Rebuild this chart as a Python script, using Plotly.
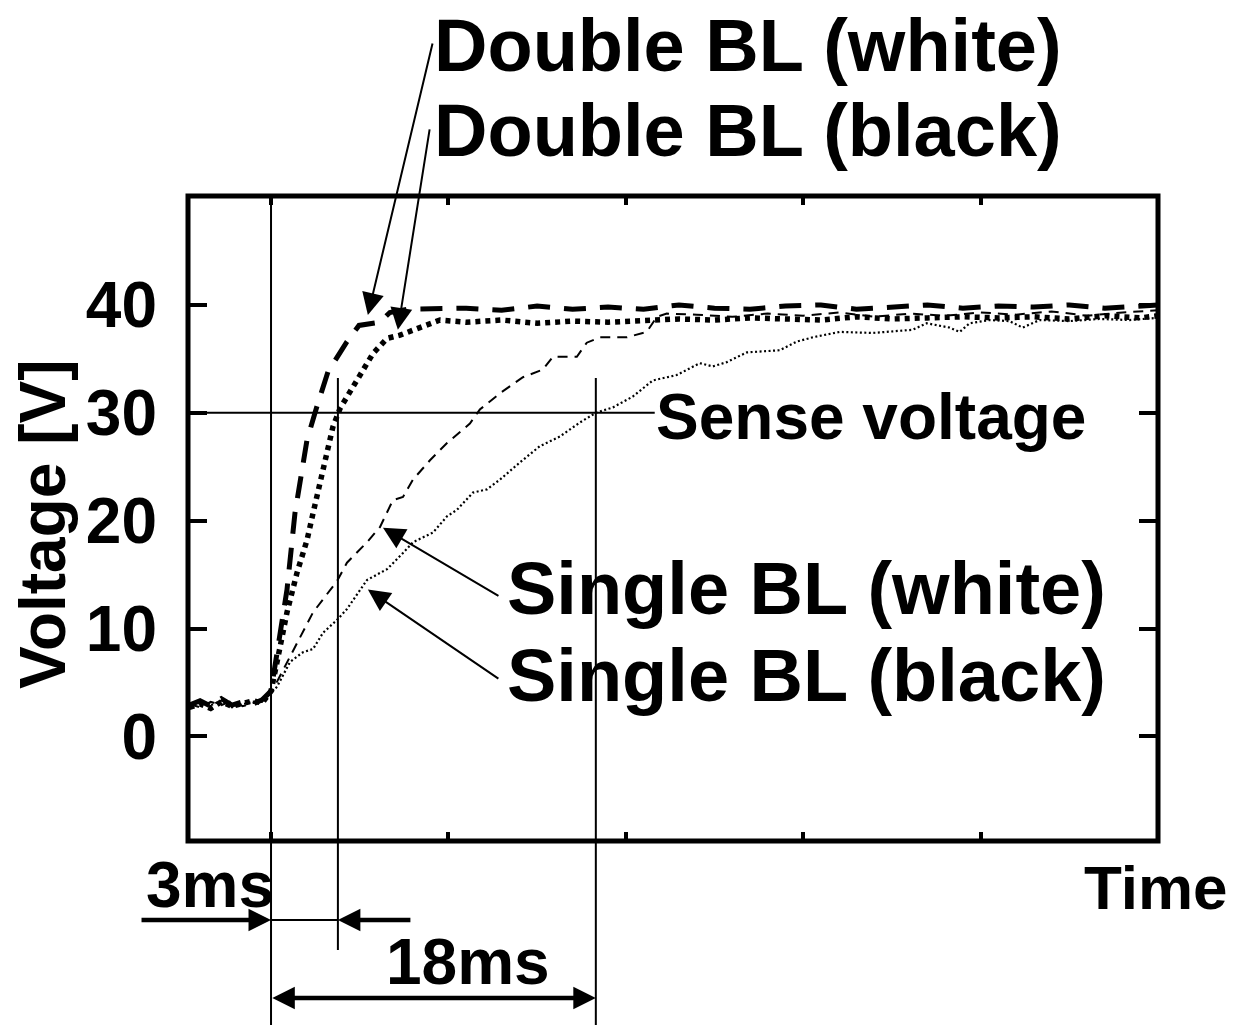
import plotly.graph_objects as go

# ---------------- data (time in ms relative to drive step, voltage in V) -------------
pre_t = [-4.6, -4.0, -3.4, -2.8, -2.2, -1.6, -1.0, -0.5]

dw_t = pre_t + [0.0, 0.9, 1.35, 2.03, 2.59, 3.21, 4.28, 4.96, 6.14, 6.7, 7.66,
                9, 11, 13, 15, 17, 19, 21, 23, 25, 27, 29, 31, 33, 35, 37, 39, 41, 43, 45, 47, 49, 50]
dw_v = [2.9, 3.3, 2.8, 3.5, 2.9, 3.2, 3.0, 3.4,
        4.2, 13.6, 20.7, 27.5, 30.6, 33.8, 36.6, 38.1, 38.4, 39.3, 39.6,
        39.6, 39.7, 39.5, 39.9, 39.6, 39.8, 39.6, 40.0, 39.7, 39.6, 39.9, 40.0, 39.6, 39.8,
        40.0, 39.7, 39.9, 39.8, 40.0, 39.7, 39.9, 40.0]

db_t = pre_t + [0.0, 0.34, 0.9, 1.47, 2.03, 2.37, 2.93, 3.49, 3.89, 4.85, 5.75, 6.54, 7.27, 8.39, 9.52,
                11, 13, 15, 17, 19, 21, 23, 25, 27, 29, 31, 33, 35, 37, 39, 41, 43, 45, 47, 49, 50]
db_v = [2.7, 3.0, 2.6, 3.2, 2.8, 3.0, 3.3, 3.1,
        4.2, 6.9, 11.5, 15.2, 18.2, 20.7, 25.0, 28.7, 30.4, 33.0, 35.5, 36.9, 37.2, 37.9, 38.6,
        38.4, 38.6, 38.3, 38.5, 38.4, 38.5, 38.7, 38.6, 38.8, 38.7, 38.6, 38.9, 38.7, 38.8,
        38.9, 38.8, 38.9, 38.7, 39.0, 38.8, 39.0]

sw_t = pre_t + [0.0, 1.35, 2.37, 3.72, 4.28, 5.41, 6.14, 6.87, 7.44, 8.0, 8.96, 9.92, 10.65,
                11.21, 11.77, 12.9, 14.2, 15.32, 15.89, 17.24, 17.8, 18.54, 20.06, 21.18, 21.75, 22.31,
                24, 26, 28, 30, 32, 34, 36, 38, 40, 42, 44, 46, 48, 50]
sw_v = [3.0, 2.7, 3.2, 2.9, 3.3, 2.8, 3.1, 3.2,
        4.0, 8.3, 11.5, 14.4, 16.1, 18.0, 19.4, 21.9, 22.2, 23.8, 25.6, 27.2, 28.2,
        29.0, 30.3, 31.8, 33.3, 34.0, 35.2, 35.2, 36.5, 37.0, 37.0, 37.5, 38.9, 39.2,
        39.1, 38.9, 39.2, 39.0, 39.3, 38.9, 39.2, 39.0, 39.3, 39.1, 39.4, 39.0, 39.3, 39.5]

sb_t = pre_t + [0.0, 0.34, 1.07, 1.8, 2.37, 2.93, 3.72, 4.28, 5.41, 6.54, 7.44, 8.0, 9.13, 9.92,
                10.48, 11.38, 12.17, 12.9, 14.03, 15.15, 16.28, 17.41, 18.31, 19.27, 20.39, 21.52,
                22.87, 24.17, 24.9, 25.69, 26.82, 28.68, 29.63, 30.54, 32.06, 33.92, 36.17, 36.96,
                38.25, 38.82, 39.38, 40.5, 41.63, 42.37, 43.32, 45.01, 46.7, 48.39, 49.97]
sb_v = [2.8, 3.1, 2.9, 3.3, 2.7, 3.0, 3.2, 3.5,
        4.0, 4.6, 6.9, 7.8, 8.1, 9.6, 10.8, 11.8, 14.5, 15.5, 17.0, 18.0, 18.9, 20.4,
        21.0, 22.6, 22.9, 23.8, 25.4, 26.9, 27.8, 29.1, 30.0, 30.5, 31.5, 33.0,
        33.5, 34.6, 34.3, 34.7, 35.6, 35.8, 36.6, 37.0, 37.5, 37.4, 37.7, 38.3,
        37.9, 37.5, 38.3, 38.6, 38.5, 37.9, 38.6, 38.5, 38.7, 38.6, 38.8]

y_ticks = [0, 10, 20, 30, 40]
x_ticks = [0, 10, 20, 30, 40]
sense_voltage = 30
t_step = 0.0          # drive start
t_double = 3.77       # double BL reaches sense voltage
t_single = 18.31      # single BL reaches sense voltage

x_range = [-4.68, 50.0]
y_range = [-9.7, 50.1]

# ---------------- figure geometry ----------------
W, H = 1234, 1025
L, R, T, B = 188, 1158, 196, 841   # plot area in pixels


def px_x(px):
    return (px - L) / (R - L)


def px_y(py):
    return (B - py) / (B - T)


BOLD = "Liberation Sans, Arial, sans-serif"

fig = go.Figure()

fig.add_trace(go.Scatter(x=sb_t, y=sb_v, mode="lines", name="Single BL (black)",
                         line=dict(color="black", width=2.2, dash="2px,2.5px")))
fig.add_trace(go.Scatter(x=sw_t, y=sw_v, mode="lines", name="Single BL (white)",
                         line=dict(color="black", width=2, dash="10px,7px")))
fig.add_trace(go.Scatter(x=db_t, y=db_v, mode="lines", name="Double BL (black)",
                         line=dict(color="black", width=5.5, dash="5px,5px")))
fig.add_trace(go.Scatter(x=dw_t, y=dw_v, mode="lines", name="Double BL (white)",
                         line=dict(color="black", width=5, dash="22px,14px")))

shapes = []
# plot frame
shapes.append(dict(type="rect", xref="paper", yref="paper", x0=0, x1=1, y0=0, y1=1,
                   line=dict(color="black", width=5)))
# sense voltage line
shapes.append(dict(type="line", xref="x", yref="y", x0=x_range[0], x1=21.63,
                   y0=sense_voltage, y1=sense_voltage, line=dict(color="black", width=2)))
# vertical markers
shapes.append(dict(type="line", xref="x", yref="paper", x0=t_step, x1=t_step,
                   y0=1, y1=px_y(1025), line=dict(color="black", width=2)))
shapes.append(dict(type="line", xref="x", yref="paper", x0=t_double, x1=t_double,
                   y0=px_y(378), y1=px_y(950), line=dict(color="black", width=2)))
shapes.append(dict(type="line", xref="x", yref="paper", x0=t_single, x1=t_single,
                   y0=px_y(378), y1=px_y(1025), line=dict(color="black", width=2)))
# thin line between 3ms arrows
shapes.append(dict(type="line", xref="x", yref="paper", x0=t_step, x1=t_double,
                   y0=px_y(920), y1=px_y(920), line=dict(color="black", width=2)))

ann = []


def label(text, xpx, ypx, size, anchor="left"):
    ann.append(dict(text=text, xref="paper", yref="paper", x=px_x(xpx), y=px_y(ypx),
                    xanchor=anchor, yanchor="middle", showarrow=False,
                    font=dict(family=BOLD, size=size, color="black", weight="bold")))


label("Double BL (white)", 432, 45, 74)
label("Double BL (black)", 432, 130, 74)
label("Single BL (white)", 505, 588, 74)
label("Single BL (black)", 505, 675, 74)
label("Sense voltage", 654, 417, 64)
label("Time", 1082, 887, 62)
label("3ms", 144, 885, 64)
label("18ms", 384, 962, 64)
ann.append(dict(text="Voltage [V]", xref="paper", yref="paper", x=px_x(43), y=px_y(524),
                xanchor="center", yanchor="middle", showarrow=False, textangle=-90,
                font=dict(family=BOLD, size=64, color="black", weight="bold")))


def pointer(x, y, ax, ay):
    ann.append(dict(text="", x=x, y=y, xref="x", yref="y", ax=ax, ay=ay,
                    axref="pixel", ayref="pixel", showarrow=True,
                    arrowhead=2, arrowsize=2.2, arrowwidth=2, arrowcolor="black"))


pointer(5.46, 39.07, 65, -273)
pointer(7.15, 37.69, 32, -202)
pointer(6.31, 19.35, 117, 69)
pointer(5.46, 13.61, 132, 90)

# 3 ms arrows
ann.append(dict(text="", x=t_step, y=px_y(920), xref="x", yref="paper", ax=-131, ay=0,
                showarrow=True, arrowhead=2, arrowsize=1.0, arrowwidth=4.5, arrowcolor="black"))
ann.append(dict(text="", x=t_double, y=px_y(920), xref="x", yref="paper", ax=74, ay=0,
                showarrow=True, arrowhead=2, arrowsize=1.0, arrowwidth=4.5, arrowcolor="black"))
# 18 ms double arrow
ann.append(dict(text="", x=t_single, y=px_y(998), xref="x", yref="paper", ax=-325, ay=0,
                showarrow=True, arrowhead=2, startarrowhead=2, arrowside="end+start",
                arrowsize=1.0, startarrowsize=1.0, arrowwidth=4.5, arrowcolor="black"))

fig.update_layout(
    width=W, height=H, autosize=False,
    margin=dict(l=L, r=W - R, t=T, b=H - B, pad=0),
    paper_bgcolor="white", plot_bgcolor="white",
    showlegend=False,
    font=dict(family=BOLD, color="black", weight="bold"),
    shapes=shapes, annotations=ann,
    xaxis=dict(range=x_range, tickvals=x_ticks, ticks="inside", ticklen=9, tickwidth=4,
               tickcolor="black", showticklabels=False, showgrid=False, zeroline=False,
               showline=False, mirror="ticks"),
    yaxis=dict(range=y_range, tickvals=y_ticks, ticks="inside", ticklen=19, tickwidth=4,
               tickcolor="black", showgrid=False, zeroline=False, showline=False,
               mirror="ticks", ticklabelstandoff=30,
               tickfont=dict(family=BOLD, size=64, color="black", weight="bold")),
)

fig.write_html("out.html")
